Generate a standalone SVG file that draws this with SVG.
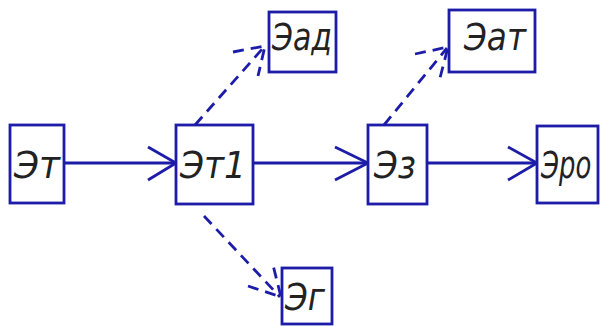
<svg xmlns="http://www.w3.org/2000/svg" width="602" height="326" viewBox="0 0 602 326">
<style>
.box{fill:#fff;stroke:#1c1ca8;stroke-width:2.8}
.lbl{font-family:"DejaVu Sans","Liberation Sans",sans-serif;font-style:italic;font-weight:200;font-size:38px;fill:#222}
.c{fill:none;stroke:#1c1ca8;stroke-width:2.8}
.d{stroke-dasharray:11 7}
</style>
<rect width="602" height="326" fill="#fff"/>
<g id="connectors">
<line class="c" x1="64" y1="163" x2="176" y2="163"/>
<polyline class="c" points="148,147 176,163 148,180"/>
<line class="c" x1="253" y1="163" x2="368" y2="163"/>
<polyline class="c" points="335,147 368,163 335,180"/>
<line class="c" x1="427" y1="163" x2="537" y2="163"/>
<polyline class="c" points="508,147 537,163 508,180"/>
<line class="c d" x1="195" y1="125" x2="264" y2="47"/>
<polyline class="c d" points="233,52 265,46 258,76"/>
<line class="c d" x1="384" y1="125" x2="447" y2="48"/>
<polyline class="c d" points="415,54 448,47 440,78"/>
<line class="c d" x1="204" y1="216" x2="280" y2="297"/>
<polyline class="c d" points="248,286 281,297 273,265"/>
</g>
<g id="n-et"><rect class="box" x="10" y="125" width="54" height="78"/><text class="lbl" x="14" y="178" textLength="46" lengthAdjust="spacingAndGlyphs">Эт</text></g>
<g id="n-et1"><rect class="box" x="176" y="125" width="77" height="79"/><text class="lbl" x="180" y="178" textLength="66" lengthAdjust="spacingAndGlyphs">Эт1</text></g>
<g id="n-ez"><rect class="box" x="368" y="125" width="59" height="79"/><text class="lbl" x="374" y="178" textLength="42" lengthAdjust="spacingAndGlyphs">Эз</text></g>
<g id="n-ero"><rect class="box" x="537" y="126" width="61" height="77"/><text class="lbl" transform="translate(541,178) scale(0.68,1)">Эро</text></g>
<g id="n-ead"><rect class="box" x="269" y="12" width="67" height="60"/><text class="lbl" x="272" y="50" textLength="60" lengthAdjust="spacingAndGlyphs">Эад</text></g>
<g id="n-eat"><rect class="box" x="449" y="10" width="86" height="62"/><text class="lbl" x="464" y="50" textLength="62" lengthAdjust="spacingAndGlyphs">Эат</text></g>
<g id="n-eg"><rect class="box" x="282" y="268" width="50" height="56"/><text class="lbl" x="285" y="310" textLength="40" lengthAdjust="spacingAndGlyphs">Эг</text></g>
</svg>
